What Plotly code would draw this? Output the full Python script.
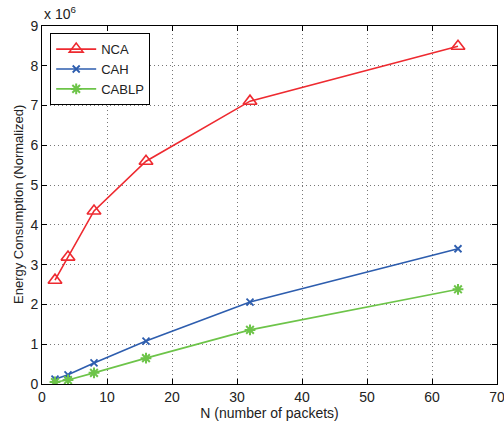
import plotly.graph_objects as go

N = [2, 4, 8, 16, 32, 64]
nca = [2.61, 3.19, 4.35, 5.60, 7.11, 8.49]
cah = [0.12, 0.23, 0.53, 1.08, 2.06, 3.40]
cablp = [0.05, 0.10, 0.28, 0.65, 1.36, 2.38]

red = "#EE2A30"
blue = "#2D5DAE"
green = "#6DC449"

fig = go.Figure()
fig.add_trace(go.Scatter(x=N, y=nca, name="NCA", mode="lines+markers",
                         line=dict(color=red, width=1.6),
                         marker=dict(symbol="triangle-up-open", size=12, color=red, line=dict(width=1.6, color=red))))
fig.add_trace(go.Scatter(x=N, y=cah, name="CAH", mode="lines+markers",
                         line=dict(color=blue, width=1.6),
                         marker=dict(symbol="x-thin-open", size=7, color=blue, line=dict(width=1.8, color=blue))))
fig.add_trace(go.Scatter(x=N, y=cablp, name="CABLP", mode="lines+markers",
                         line=dict(color=green, width=1.6),
                         marker=dict(symbol="asterisk-open", size=9, color=green, line=dict(width=2, color=green))))

font = "Liberation Sans, Arial, sans-serif"
axis_common = dict(showline=True, linecolor="black", linewidth=1, mirror="ticks",
                   ticks="inside", ticklen=5, tickcolor="black",
                   showgrid=True, gridcolor="#777777", griddash="1px,3px", gridwidth=1,
                   zeroline=False, tickfont=dict(family=font, size=14, color="#222"),
                   ticklabeloverflow="allow", automargin=False)
fig.update_xaxes(range=[0, 70], dtick=10, title=dict(text="N (number of packets)", font=dict(family=font, size=14, color="#222"), standoff=3), **axis_common)
fig.update_yaxes(range=[0, 9], dtick=1, **axis_common)

fig.add_annotation(text="Energy Consumption (Normalized)", xref="paper", yref="paper",
                   x=0, y=0.5, xanchor="center", yanchor="middle", textangle=-90,
                   xshift=-24, showarrow=False, font=dict(family=font, size=13, color="#222"))

fig.add_annotation(text="x 10<sup>6</sup>", xref="paper", yref="paper", x=0, y=1.0,
                   xanchor="left", yanchor="bottom", showarrow=False, yshift=2,
                   font=dict(family=font, size=14, color="#222"))

fig.update_layout(width=504, height=423, margin=dict(l=42, r=7, t=26, b=39, autoexpand=False),
                  paper_bgcolor="white", plot_bgcolor="white",
                  showlegend=True,
                  legend=dict(x=0.018, y=0.98, xanchor="left", yanchor="top",
                              bordercolor="black", borderwidth=1, bgcolor="white",
                              font=dict(family=font, size=13, color="#222"),
                              tracegroupgap=0, itemwidth=40))
fig.write_html("out.html")
